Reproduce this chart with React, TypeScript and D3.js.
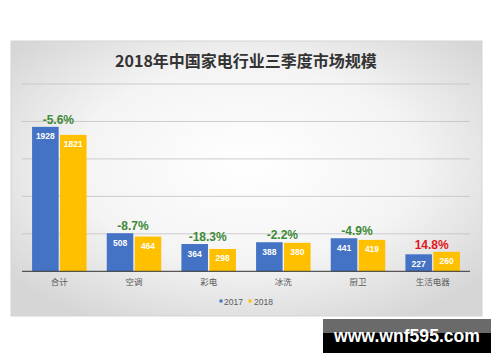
import * as d3 from "d3";

const categories = ["合计", "空调", "彩电", "冰洗", "厨卫", "生活电器"];
const series = ["2017", "2018"];
const values2017 = [1928, 508, 364, 388, 441, 227];
const values2018 = [1821, 464, 298, 380, 419, 260];
const changes = ["-5.6%", "-8.7%", "-18.3%", "-2.2%", "-4.9%", "14.8%"];
const yTicks = [0, 500, 1000, 1500, 2000, 2500];

const W = 500;
const H = 362;
const colors = ["#4472c4", "#ffc000"];
const FONT = "'Liberation Sans', 'Noto Sans CJK SC', sans-serif";
const CJK = "'Noto Sans CJK SC', 'Liberation Sans', sans-serif";

export default function App() {
  const x = d3.scaleBand<string>().domain(categories).range([22, 470]).paddingInner(0.27).paddingOuter(0.135);
  const xs = d3.scaleBand<string>().domain(series).range([0, x.bandwidth()]).paddingInner(0.05);
  const y = d3.scaleLinear().domain([0, 2500]).range([271.3, 84]);

  const rows = categories.map((c, i) => ({ c, v: [values2017[i], values2018[i]], ch: changes[i] }));

  return (
    <svg
      width={W}
      height={H}
      viewBox={`0 0 ${W} ${H}`}
      style={{ position: "absolute", left: 0, top: 0, background: "#fff" }}
    >
      <defs>
        <radialGradient id="bg" cx="0.5" cy="0.45" r="0.65">
          <stop offset="0" stopColor="#ffffff" />
          <stop offset="0.55" stopColor="#f4f4f4" />
          <stop offset="1" stopColor="#d6d6d6" />
        </radialGradient>
      </defs>
      <rect x={11} y={41} width={471} height={275} fill="url(#bg)" stroke="#d4d4d4" strokeWidth={1} />

      <text x={246} y={67} textAnchor="middle" fontFamily={CJK} fontSize={16} fontWeight="bold" fill="#333">
        2018年中国家电行业三季度市场规模
      </text>

      {yTicks.slice(1).map((t) => (
        <line key={t} x1={22} x2={470} y1={y(t)} y2={y(t)} stroke="#c2c2c2" strokeWidth={0.8} />
      ))}

      {rows.map((r) => {
        const x0 = x(r.c) ?? 0;
        const cx = x0 + x.bandwidth() / 2;
        const top = y(Math.max(...r.v));
        const down = r.ch.startsWith("-");
        return (
          <g key={r.c}>
            {series.map((s, j) => {
              const bx = x0 + (xs(s) ?? 0);
              const by = y(r.v[j]);
              return (
                <g key={s}>
                  <rect x={bx} y={by} width={xs.bandwidth()} height={y(0) - by} fill={colors[j]} />
                  <text
                    x={bx + xs.bandwidth() / 2}
                    y={by + 12.5}
                    textAnchor="middle"
                    fontFamily={FONT}
                    fontSize={8.5}
                    fontWeight="bold"
                    fill="#fff"
                  >
                    {r.v[j]}
                  </text>
                </g>
              );
            })}
            <text
              x={cx - 1}
              y={top - 3}
              textAnchor="middle"
              fontFamily={FONT}
              fontSize={12}
              fontWeight="bold"
              fill={down ? "#3f8a36" : "#e4161c"}
            >
              {r.ch}
            </text>
            <text x={cx} y={285} textAnchor="middle" fontFamily={CJK} fontSize={8.5} fill="#595959">
              {r.c}
            </text>
          </g>
        );
      })}

      <line x1={22} x2={470} y1={y(0)} y2={y(0)} stroke="#333" strokeWidth={1} />

      <g fontFamily={FONT} fontSize={8.5} fill="#595959">
        <rect x={219.5} y={299.5} width={3} height={3} fill={colors[0]} />
        <text x={224} y={305}>2017</text>
        <rect x={248.5} y={299.5} width={3} height={3} fill={colors[1]} />
        <text x={254} y={305}>2018</text>
      </g>

      <rect x={323} y={319} width={168} height={34} fill="#000" />
      <rect x={323} y={319} width={168} height={14} fill="#6a6a6a" />
      <text
        x={407}
        y={342}
        textAnchor="middle"
        fontFamily="'Liberation Sans', sans-serif"
        fontSize={18}
        fontWeight="bold"
        fill="#fff"
        textLength={146}
        lengthAdjust="spacingAndGlyphs"
      >
        www.wnf595.com
      </text>
    </svg>
  );
}
